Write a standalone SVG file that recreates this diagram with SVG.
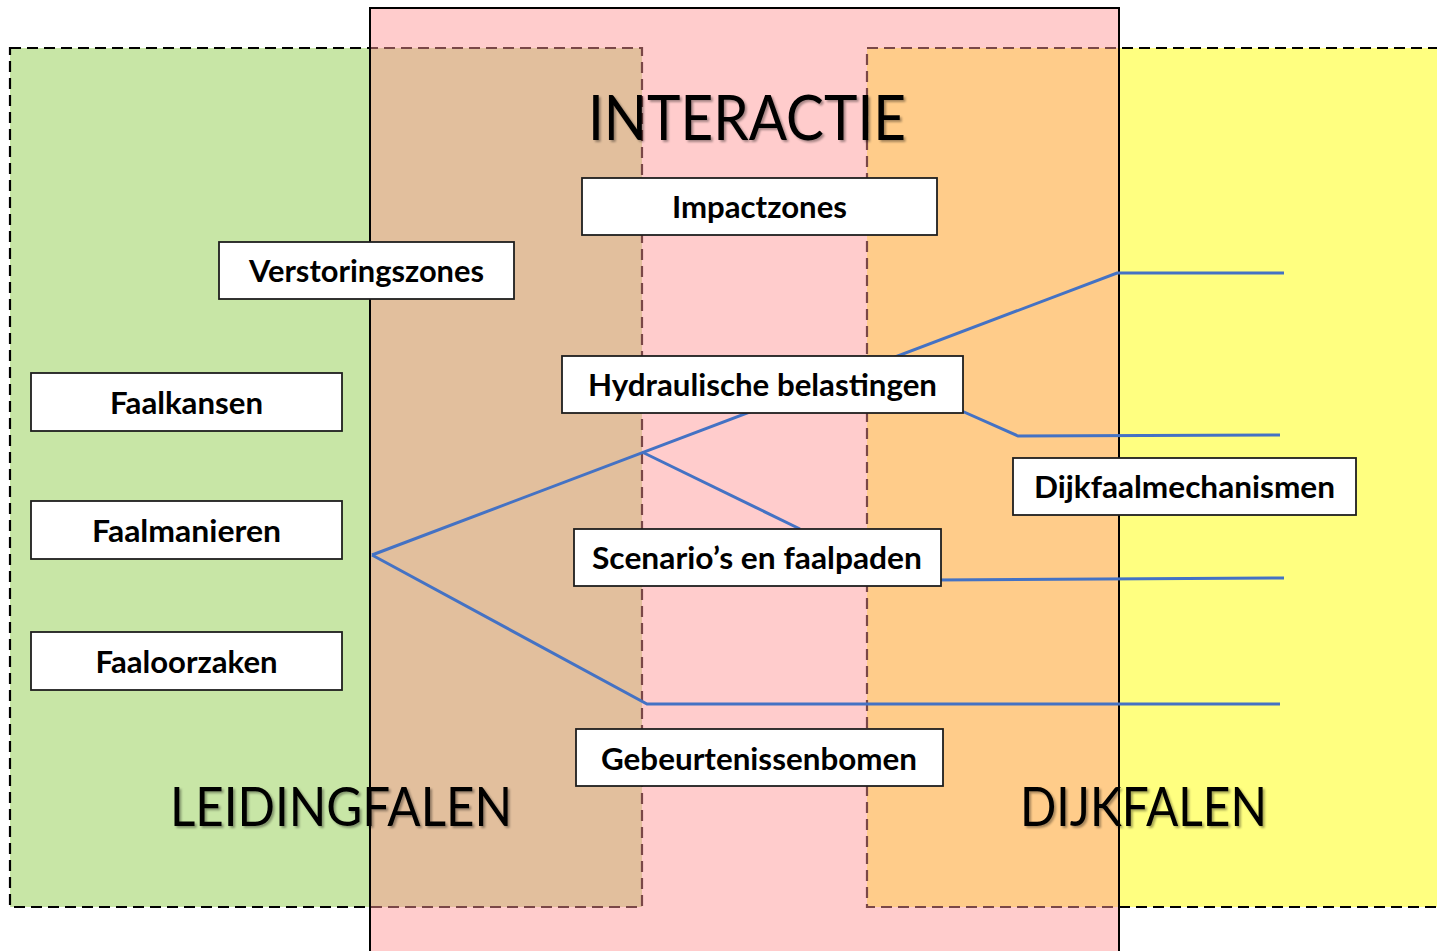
<svg xmlns="http://www.w3.org/2000/svg" width="1437" height="951" viewBox="0 0 1437 951">
<style>
.zone{stroke:#000;stroke-width:2.2}
.dash{stroke-dasharray:11,6}
.conn{fill:none;stroke:#4472C4;stroke-width:3;stroke-linejoin:miter}
.box{fill:#fff;stroke:#1e1e1e;stroke-width:1.8}
.lbl{font-family:Lato,"Open Sans","Liberation Sans",sans-serif;font-weight:bold;font-size:30px;fill:#000;text-anchor:middle}
.title{font-family:Lato,"Open Sans","Liberation Sans",sans-serif;font-weight:normal;fill:#000;text-anchor:middle;filter:url(#shadow)}
</style>
<defs>
<filter id="shadow" x="-10%" y="-20%" width="120%" height="150%">
<feDropShadow dx="2" dy="2" stdDeviation="1.2" flood-color="#000" flood-opacity="0.35"/>
</filter>
</defs>
<rect width="1437" height="951" fill="#fff"/>
<g id="zone-leidingfalen">
<rect class="zone dash" x="10" y="48" width="632" height="859" fill="#C8E6A6"/>
</g>
<g id="zone-dijkfalen">
<rect class="zone dash" x="867" y="48" width="620" height="859" fill="#FFFF80"/>
</g>
<g id="zone-interactie">
<rect x="370" y="8" width="749" height="960" fill="#FF9595" fill-opacity="0.48" stroke="#000" stroke-width="2"/>
</g>
<g id="connectors">
<path class="conn" d="M372,555 L1117,273 L1284,273"/>
<path class="conn" d="M955,408 L1018,436 L1280,435"/>
<path class="conn" d="M642,452 L800,529"/>
<path class="conn" d="M935,580 L1284,578"/>
<path class="conn" d="M372,555 L647,704 L1280,704"/>
</g>
<g id="node-impactzones">
<rect class="box" x="582" y="178" width="355" height="57"/>
<text class="lbl" x="759.5" y="218" textLength="175" lengthAdjust="spacingAndGlyphs">Impactzones</text>
</g>
<g id="node-verstoringszones">
<rect class="box" x="219" y="242" width="295" height="57"/>
<text class="lbl" x="366.5" y="282" textLength="235" lengthAdjust="spacingAndGlyphs">Verstoringszones</text>
</g>
<g id="node-faalkansen">
<rect class="box" x="31" y="373" width="311" height="58"/>
<text class="lbl" x="186.5" y="414" textLength="153" lengthAdjust="spacingAndGlyphs">Faalkansen</text>
</g>
<g id="node-faalmanieren">
<rect class="box" x="31" y="501" width="311" height="58"/>
<text class="lbl" x="186.5" y="542" textLength="189" lengthAdjust="spacingAndGlyphs">Faalmanieren</text>
</g>
<g id="node-faaloorzaken">
<rect class="box" x="31" y="632" width="311" height="58"/>
<text class="lbl" x="186.5" y="673" textLength="182" lengthAdjust="spacingAndGlyphs">Faaloorzaken</text>
</g>
<g id="node-hydraulische-belastingen">
<rect class="box" x="562" y="356" width="401" height="57"/>
<text class="lbl" x="762.5" y="396" textLength="349" lengthAdjust="spacingAndGlyphs">Hydraulische belastingen</text>
</g>
<g id="node-dijkfaalmechanismen">
<rect class="box" x="1013" y="458" width="343" height="57"/>
<text class="lbl" x="1184.5" y="498" textLength="301" lengthAdjust="spacingAndGlyphs">Dijkfaalmechanismen</text>
</g>
<g id="node-scenarios">
<rect class="box" x="574" y="529" width="367" height="57"/>
<text class="lbl" x="757" y="569" textLength="330" lengthAdjust="spacingAndGlyphs">Scenario’s en faalpaden</text>
</g>
<g id="node-gebeurtenissenbomen">
<rect class="box" x="576" y="729" width="367" height="57"/>
<text class="lbl" x="759" y="770" textLength="316" lengthAdjust="spacingAndGlyphs">Gebeurtenissenbomen</text>
</g>
<g id="titles">
<text class="title" x="747" y="140" font-size="61" textLength="318" lengthAdjust="spacingAndGlyphs">INTERACTIE</text>
<text class="title" x="341" y="826" font-size="55" textLength="342" lengthAdjust="spacingAndGlyphs">LEIDINGFALEN</text>
<text class="title" x="1143.5" y="826" font-size="55" textLength="247" lengthAdjust="spacingAndGlyphs">DIJKFALEN</text>
</g>
</svg>
